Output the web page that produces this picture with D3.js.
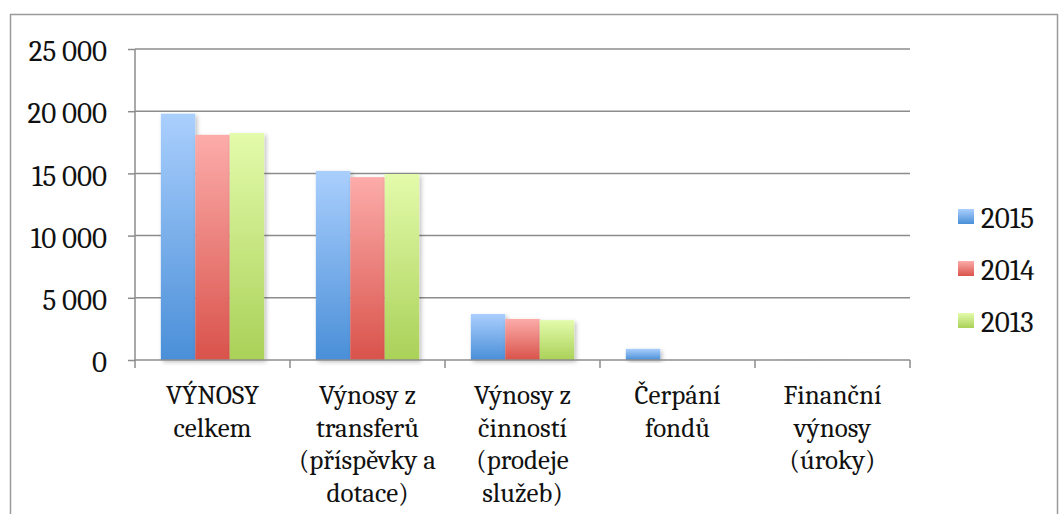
<!DOCTYPE html>
<meta charset="utf-8">
<style>
body { margin: 0; background: #fff; }
text { fill: #111; }
</style>
<svg width="1061" height="514"></svg>
<script src="https://d3js.org/d3.v7.min.js"></script>
<script>

var categories = [
  ["VÝNOSY", "celkem"],
  ["Výnosy z", "transferů", "(příspěvky a", "dotace)"],
  ["Výnosy z", "činností", "(prodeje", "služeb)"],
  ["Čerpání", "fondů"],
  ["Finanční", "výnosy", "(úroky)"]
]
var seriesNames = ["2015", "2014", "2013"]
var values2015 = [19800, 15200, 3700, 900, 20]
var values2014 = [18100, 14700, 3300, 0, 15]
var values2013 = [18250, 14950, 3200, 0, 10]
var yTicks = [0, 5000, 10000, 15000, 20000, 25000]

var series = [values2015, values2014, values2013]
var colors = [["#aacffd", "#4a8fd8"], ["#fcacaa", "#d9534b"], ["#e3fbab", "#aad158"]]

var svg = d3.select("svg")
var plotLeft = 135, plotRight = 910, plotTop = 49, plotBottom = 360
var fontFam = "Caladea, Cambria, 'Liberation Serif', serif"

// chart frame
svg.append("rect")
  .attr("x", 10.5).attr("y", 14.5)
  .attr("width", 1047).attr("height", 520)
  .attr("fill", "none").attr("stroke", "#9a9a9a").attr("stroke-width", 1.5)

var defs = svg.append("defs")
colors.forEach(function(c, i) {
  var g = defs.append("linearGradient").attr("id", "grad" + i)
    .attr("x1", 0).attr("y1", 0).attr("x2", 0).attr("y2", 1)
  g.append("stop").attr("offset", "0%").attr("stop-color", c[0])
  g.append("stop").attr("offset", "100%").attr("stop-color", c[1])
})
var f = defs.append("filter").attr("id", "shadow")
  .attr("x", "-20%").attr("y", "-10%").attr("width", "150%").attr("height", "130%")
f.append("feDropShadow").attr("dx", 2).attr("dy", 2).attr("stdDeviation", 2)
  .attr("flood-color", "#000").attr("flood-opacity", 0.25)

var x = d3.scaleBand().domain(d3.range(categories.length)).range([plotLeft, plotRight])
var y = d3.scaleLinear().domain([0, 25000]).range([plotBottom, plotTop])
var xs = d3.scaleBand().domain(d3.range(series.length))
  .range([0, x.bandwidth()]).paddingOuter(0.75).paddingInner(0)

// gridlines
svg.append("g").selectAll("line").data(yTicks.slice(1)).enter().append("line")
  .attr("x1", plotLeft).attr("x2", plotRight)
  .attr("y1", function(d) { return y(d) }).attr("y2", function(d) { return y(d) })
  .attr("stroke", "#8c8c8c").attr("stroke-width", 1.5)

// bars
series.forEach(function(vals, s) {
  svg.append("g").selectAll("rect").data(vals).enter().append("rect")
    .attr("x", function(d, i) { return x(i) + xs(s) })
    .attr("width", xs.bandwidth())
    .attr("y", function(d) { return y(d) })
    .attr("height", function(d) { return plotBottom - y(d) })
    .attr("fill", "url(#grad" + s + ")")
    .attr("filter", "url(#shadow)")
})

// y axis
var yAxis = svg.append("g").attr("transform", "translate(" + plotLeft + ",0)")
  .call(d3.axisLeft(y).tickValues(yTicks).tickSize(7).tickPadding(21)
    .tickFormat(function(d) { return d3.format(",")(d).replace(",", "\u2009") }))
yAxis.selectAll("line, path").attr("stroke", "#8c8c8c").attr("stroke-width", 1.5)
yAxis.select("path").attr("d", "M0," + plotTop + "V" + plotBottom)
yAxis.attr("font-family", fontFam).attr("font-size", 29)
yAxis.selectAll("text").attr("fill", "#111").attr("dy", "0.4em")

// x axis
var xAxis = svg.append("g").attr("transform", "translate(0," + plotBottom + ")")
xAxis.append("line").attr("x1", plotLeft).attr("x2", plotRight)
  .attr("stroke", "#8c8c8c").attr("stroke-width", 1.5)
xAxis.selectAll(".tk").data(d3.range(categories.length + 1)).enter().append("line")
  .attr("x1", function(d) { return plotLeft + d * x.step() })
  .attr("x2", function(d) { return plotLeft + d * x.step() })
  .attr("y1", 0).attr("y2", 8)
  .attr("stroke", "#8c8c8c").attr("stroke-width", 1.5)

var labels = svg.append("g").attr("font-family", fontFam).selectAll("text")
  .data(categories).enter().append("text")
  .attr("x", function(d, i) { return x(i) + x.bandwidth() / 2 })
  .attr("y", 404)
  .attr("text-anchor", "middle")
  .attr("font-size", 27)
labels.selectAll("tspan").data(function(d) { return d }).enter().append("tspan")
  .attr("x", function() { return this.parentNode.getAttribute("x") })
  .attr("dy", function(d, i) { return i ? 32.5 : 0 })
  .text(function(d) { return d })

// legend
var legend = svg.append("g").attr("font-family", fontFam).selectAll("g")
  .data(seriesNames).enter().append("g")
  .attr("transform", function(d, i) { return "translate(958," + (209 + i * 52) + ")" })
legend.append("rect").attr("width", 16).attr("height", 15)
  .attr("fill", function(d, i) { return "url(#grad" + i + ")" })
legend.append("text").attr("x", 23).attr("y", 19).attr("font-size", 29)
  .text(function(d) { return d })

</script>
